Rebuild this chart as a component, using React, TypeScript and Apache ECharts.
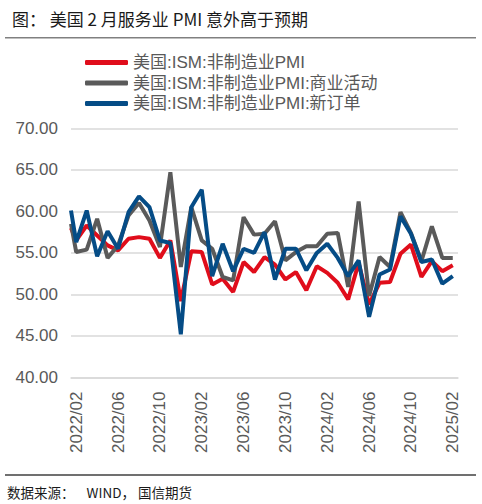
import React, { useEffect, useRef } from 'react';
import * as echarts from 'echarts';

const months = [
  '2022/02', '2022/03', '2022/04', '2022/05', '2022/06', '2022/07', '2022/08', '2022/09', '2022/10', '2022/11', '2022/12',
  '2023/01', '2023/02', '2023/03', '2023/04', '2023/05', '2023/06', '2023/07', '2023/08', '2023/09', '2023/10', '2023/11', '2023/12',
  '2024/01', '2024/02', '2024/03', '2024/04', '2024/05', '2024/06', '2024/07', '2024/08', '2024/09', '2024/10', '2024/11', '2024/12',
  '2025/01', '2025/02',
];

const pmi = [
  56.5, 58.3, 57.1, 55.9, 55.3, 56.7, 56.9, 56.7, 54.4, 56.5, 49.2,
  55.2, 55.1, 51.2, 51.9, 50.3, 53.9, 52.7, 54.5, 53.6, 51.8, 52.7, 50.5,
  53.4, 52.6, 51.4, 49.4, 53.8, 48.8, 51.4, 51.5, 54.9, 56.0, 52.1, 54.0,
  52.8, 53.5,
];

const activity = [
  55.1, 55.4, 59.1, 54.4, 55.9, 59.5, 61.0, 58.9, 55.7, 64.7, 53.3,
  60.5, 56.5, 55.5, 52.1, 51.7, 59.3, 57.2, 57.3, 58.8, 54.1, 55.1, 55.8,
  55.8, 57.3, 57.4, 50.9, 61.2, 49.8, 54.5, 53.3, 59.9, 57.4, 54.0, 58.2,
  54.4, 54.4,
];

const newOrders = [
  56.3, 60.1, 54.6, 57.6, 55.5, 59.9, 61.8, 60.5, 56.5, 56.2, 45.2,
  60.5, 62.6, 52.2, 56.1, 52.8, 55.5, 55.0, 57.5, 51.8, 55.5, 55.5, 52.9,
  55.0, 56.1, 54.4, 52.2, 54.1, 47.3, 52.4, 53.0, 59.4, 57.3, 53.9, 54.2,
  51.3, 52.2,
];

// level where each line enters at the left edge of the plot (the source shows the tail of the previous month)
const leftEdge = [58.0, 58.5, 60.1];

const seriesNames = ['美国:ISM:非制造业PMI', '美国:ISM:非制造业PMI:商业活动', '美国:ISM:非制造业PMI:新订单'];
const seriesColors = ['#e00d1b', '#5a5a5a', '#054c86'];
const yTicks = { min: 40, max: 70, step: 5 };

const latin = 'Liberation Sans, Arial, Noto Sans CJK SC, sans-serif';
const cjk = 'Noto Sans CJK SC, sans-serif';

const App: React.FC = () => {
  const chartRef = useRef<HTMLDivElement>(null);

  useEffect(() => {
    if (!chartRef.current) return;
    const chart = echarts.init(chartRef.current, undefined, { renderer: 'svg' });
    const toPoints = (arr: number[], edge: number) => [[-0.5, edge], ...arr.map((v, i) => [i, v])];

    chart.setOption({
      animation: false,
      backgroundColor: '#ffffff',
      title: {
        text: '图： 美国 2 月服务业 PMI 意外高于预期',
        left: 7,
        top: 5,
        textStyle: { fontFamily: cjk, fontSize: 17, fontWeight: 'normal', color: '#1a1a1a' },
      },
      legend: {
        orient: 'vertical',
        left: 80,
        top: 49,
        itemWidth: 43,
        itemHeight: 5,
        itemGap: 3.5,
        icon: 'roundRect',
        textStyle: { fontFamily: latin, fontSize: 17, lineHeight: 17, color: '#595959' },
        data: seriesNames,
      },
      grid: { left: 71, right: 24, top: 128.3, bottom: 126.5, containLabel: false },
      xAxis: [
        {
          type: 'category',
          data: months,
          boundaryGap: true,
          axisLine: { lineStyle: { color: '#d9d9d9', width: 1.5 } },
          axisTick: { interval: 3, length: 5, lineStyle: { color: '#d9d9d9', width: 1.5 } },
          axisLabel: {
            interval: 3,
            rotate: 90,
            margin: 14,
            fontFamily: latin,
            fontSize: 17,
            color: '#595959',
          },
          splitLine: { show: false },
        },
        {
          type: 'value',
          min: -0.5,
          max: months.length - 0.5,
          show: false,
          splitLine: { show: false },
        },
      ],
      yAxis: {
        type: 'value',
        min: yTicks.min,
        max: yTicks.max,
        interval: yTicks.step,
        axisLine: { show: false },
        axisTick: { show: false },
        axisLabel: {
          margin: 13,
          fontFamily: latin,
          fontSize: 17,
          color: '#595959',
          formatter: (v: number) => v.toFixed(2),
        },
        splitLine: { lineStyle: { color: '#d9d9d9', width: 1.5 } },
      },
      series: [pmi, activity, newOrders].map((arr, k) => ({
        name: seriesNames[k],
        type: 'line',
        xAxisIndex: 1,
        data: toPoints(arr, leftEdge[k]),
        symbol: 'none',
        color: seriesColors[k],
        lineStyle: { width: 4, color: seriesColors[k] },
      })),
      graphic: [
        { type: 'line', shape: { x1: 5, y1: 37.7, x2: 476, y2: 37.7 }, style: { stroke: '#808080', lineWidth: 1.5 } },
        { type: 'line', shape: { x1: 5, y1: 475, x2: 476, y2: 475 }, style: { stroke: '#404040', lineWidth: 1.5 } },
        {
          type: 'text',
          left: 7,
          top: 485,
          style: {
            text: '数据来源：    WIND， 国信期货',
            fontFamily: cjk,
            fontSize: 13.5,
            fill: '#1a1a1a',
          },
        },
      ],
    });

    return () => chart.dispose();
  }, []);

  return (
    <div
      ref={chartRef}
      style={{ position: 'fixed', left: 0, top: 0, width: 482, height: 504, background: '#fff' }}
    />
  );
};

export default App;
